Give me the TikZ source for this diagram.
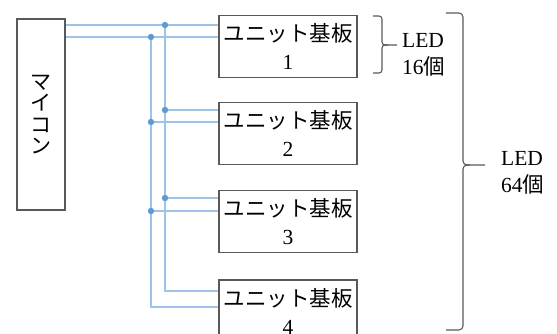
\documentclass[tikz,border=0pt]{standalone}
\usepackage{fontspec}
\setmainfont{Liberation Serif}
\newfontfamily\jp{Noto Sans CJK JP}
\usepackage{tikz}
\usetikzlibrary{positioning}
\definecolor{wireblue}{HTML}{9DC3E6}
\definecolor{dotblue}{HTML}{5B9BD5}
\definecolor{boxgray}{HTML}{595959}

\begin{document}
\begin{tikzpicture}[x=1pt,y=-1pt,
  unitbox/.style={draw=boxgray,line width=1.1pt,minimum width=138pt,minimum height=62pt,
    inner sep=0pt,align=center,font=\fontsize{21.5}{28}\selectfont},
  wire/.style={wireblue,line width=1.5pt},
  bracket/.style={boxgray,line width=1.1pt,rounded corners=3pt},
  ledtext/.style={align=left,anchor=west,inner sep=0pt,font=\fontsize{21.5}{27}\selectfont}]
\useasboundingbox (0,0) rectangle (557,334);
\node[draw=boxgray,line width=1.1pt,minimum width=48pt,minimum height=191pt,inner sep=0pt,
  align=center,font=\jp\fontsize{21}{21.5}\selectfont] (mcu) at (41,114.5) {マ\\イ\\コ\\ン};
\foreach \i/\y in {1/46.5,2/133.5,3/221.5,4/311}
  \node[unitbox] (u\i) at (288,\y) {{\jp ユニット基板}\\\i};
\draw[wire] (mcu.east |- 0,25) -- (u1.west |- 0,25);
\draw[wire] (mcu.east |- 0,37) -- (u1.west |- 0,37);
\draw[wire] (165,25) |- (u4.west |- 0,291);
\draw[wire] (151,37) |- (u4.west |- 0,307);
\foreach \i/\a/\b in {2/110/122,3/198/211}
{\draw[wire] (165,\a) -- (u\i.west |- 0,\a);
 \draw[wire] (151,\b) -- (u\i.west |- 0,\b);}
\foreach \x/\y in {165/25,151/37,165/110,151/122,165/198,151/211}
{\fill[dotblue] (\x,\y) circle (3.2pt);}
\draw[bracket] (373,16) -- (382,16) -- (382,45) -- (397,45);
\draw[bracket] (373,73) -- (382,73) -- (382,45) -- (388,45);
\draw[bracket,rounded corners=4pt] (446,13) -- (463,13) -- (463,165) -- (485,165);
\draw[bracket,rounded corners=4pt] (446,330) -- (463,330) -- (463,165) -- (470,165);
\node[ledtext] (led16) at (402,54.7) {LED\\16{\jp 個}};
\node[ledtext] (led64) at (501,172.7) {LED\\64{\jp 個}};
\end{tikzpicture}
\end{document}
